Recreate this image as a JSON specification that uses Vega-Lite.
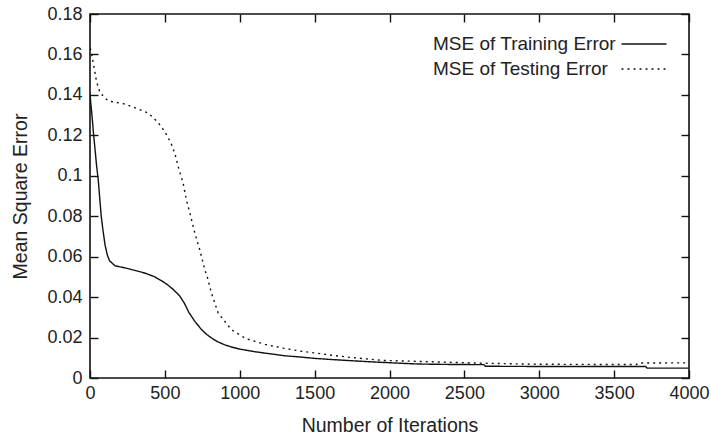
{
  "$schema": "https://vega.github.io/schema/vega-lite/v6.json",
  "width": 599,
  "height": 364,
  "autosize": "none",
  "padding": {"left": 90, "top": 14, "right": 22, "bottom": 58},
  "background": "white",
  "config": {
    "font": "Liberation Sans",
    "view": {"stroke": "#111", "strokeWidth": 1.6},
    "axis": {"grid": false, "domain": false, "tickColor": "#111", "tickWidth": 1.4, "tickSize": -8, "labelColor": "#222", "titleColor": "#222", "labelFont": "Liberation Sans", "titleFont": "Liberation Sans", "labelFontSize": 18, "titleFontSize": 19.5, "titleFontWeight": "normal"}
  },
  "data": {"values": [
    {"iter": 0, "mse": 0.141, "series": "MSE of Training Error"},
    {"iter": 5, "mse": 0.136, "series": "MSE of Training Error"},
    {"iter": 12, "mse": 0.131, "series": "MSE of Training Error"},
    {"iter": 22, "mse": 0.122, "series": "MSE of Training Error"},
    {"iter": 35, "mse": 0.112, "series": "MSE of Training Error"},
    {"iter": 44, "mse": 0.105, "series": "MSE of Training Error"},
    {"iter": 55, "mse": 0.098, "series": "MSE of Training Error"},
    {"iter": 66, "mse": 0.088, "series": "MSE of Training Error"},
    {"iter": 75, "mse": 0.08, "series": "MSE of Training Error"},
    {"iter": 85, "mse": 0.074, "series": "MSE of Training Error"},
    {"iter": 100, "mse": 0.066, "series": "MSE of Training Error"},
    {"iter": 115, "mse": 0.061, "series": "MSE of Training Error"},
    {"iter": 130, "mse": 0.058, "series": "MSE of Training Error"},
    {"iter": 167, "mse": 0.0555, "series": "MSE of Training Error"},
    {"iter": 230, "mse": 0.0545, "series": "MSE of Training Error"},
    {"iter": 300, "mse": 0.0532, "series": "MSE of Training Error"},
    {"iter": 370, "mse": 0.0518, "series": "MSE of Training Error"},
    {"iter": 433, "mse": 0.05, "series": "MSE of Training Error"},
    {"iter": 480, "mse": 0.048, "series": "MSE of Training Error"},
    {"iter": 520, "mse": 0.046, "series": "MSE of Training Error"},
    {"iter": 560, "mse": 0.0435, "series": "MSE of Training Error"},
    {"iter": 600, "mse": 0.0405, "series": "MSE of Training Error"},
    {"iter": 630, "mse": 0.037, "series": "MSE of Training Error"},
    {"iter": 660, "mse": 0.0325, "series": "MSE of Training Error"},
    {"iter": 700, "mse": 0.028, "series": "MSE of Training Error"},
    {"iter": 744, "mse": 0.024, "series": "MSE of Training Error"},
    {"iter": 780, "mse": 0.0215, "series": "MSE of Training Error"},
    {"iter": 811, "mse": 0.0198, "series": "MSE of Training Error"},
    {"iter": 850, "mse": 0.018, "series": "MSE of Training Error"},
    {"iter": 900, "mse": 0.0164, "series": "MSE of Training Error"},
    {"iter": 950, "mse": 0.0152, "series": "MSE of Training Error"},
    {"iter": 1000, "mse": 0.0143, "series": "MSE of Training Error"},
    {"iter": 1100, "mse": 0.013, "series": "MSE of Training Error"},
    {"iter": 1200, "mse": 0.012, "series": "MSE of Training Error"},
    {"iter": 1300, "mse": 0.011, "series": "MSE of Training Error"},
    {"iter": 1400, "mse": 0.0104, "series": "MSE of Training Error"},
    {"iter": 1500, "mse": 0.0097, "series": "MSE of Training Error"},
    {"iter": 1600, "mse": 0.0092, "series": "MSE of Training Error"},
    {"iter": 1733, "mse": 0.0086, "series": "MSE of Training Error"},
    {"iter": 1850, "mse": 0.0081, "series": "MSE of Training Error"},
    {"iter": 1960, "mse": 0.0077, "series": "MSE of Training Error"},
    {"iter": 2100, "mse": 0.0072, "series": "MSE of Training Error"},
    {"iter": 2200, "mse": 0.0069, "series": "MSE of Training Error"},
    {"iter": 2400, "mse": 0.0067, "series": "MSE of Training Error"},
    {"iter": 2630, "mse": 0.0066, "series": "MSE of Training Error"},
    {"iter": 2640, "mse": 0.0058, "series": "MSE of Training Error"},
    {"iter": 3000, "mse": 0.0057, "series": "MSE of Training Error"},
    {"iter": 3400, "mse": 0.0057, "series": "MSE of Training Error"},
    {"iter": 3710, "mse": 0.0057, "series": "MSE of Training Error"},
    {"iter": 3720, "mse": 0.0049, "series": "MSE of Training Error"},
    {"iter": 4000, "mse": 0.0049, "series": "MSE of Training Error"},
    {"iter": 0, "mse": 0.163, "series": "MSE of Testing Error"},
    {"iter": 7, "mse": 0.162, "series": "MSE of Testing Error"},
    {"iter": 22, "mse": 0.1556, "series": "MSE of Testing Error"},
    {"iter": 44, "mse": 0.1465, "series": "MSE of Testing Error"},
    {"iter": 67, "mse": 0.141, "series": "MSE of Testing Error"},
    {"iter": 122, "mse": 0.137, "series": "MSE of Testing Error"},
    {"iter": 233, "mse": 0.1355, "series": "MSE of Testing Error"},
    {"iter": 322, "mse": 0.133, "series": "MSE of Testing Error"},
    {"iter": 389, "mse": 0.131, "series": "MSE of Testing Error"},
    {"iter": 451, "mse": 0.1267, "series": "MSE of Testing Error"},
    {"iter": 500, "mse": 0.1218, "series": "MSE of Testing Error"},
    {"iter": 540, "mse": 0.1163, "series": "MSE of Testing Error"},
    {"iter": 567, "mse": 0.111, "series": "MSE of Testing Error"},
    {"iter": 589, "mse": 0.1045, "series": "MSE of Testing Error"},
    {"iter": 622, "mse": 0.0963, "series": "MSE of Testing Error"},
    {"iter": 644, "mse": 0.088, "series": "MSE of Testing Error"},
    {"iter": 673, "mse": 0.0798, "series": "MSE of Testing Error"},
    {"iter": 700, "mse": 0.0716, "series": "MSE of Testing Error"},
    {"iter": 733, "mse": 0.0634, "series": "MSE of Testing Error"},
    {"iter": 767, "mse": 0.0535, "series": "MSE of Testing Error"},
    {"iter": 785, "mse": 0.0495, "series": "MSE of Testing Error"},
    {"iter": 811, "mse": 0.042, "series": "MSE of Testing Error"},
    {"iter": 856, "mse": 0.0321, "series": "MSE of Testing Error"},
    {"iter": 944, "mse": 0.0239, "series": "MSE of Testing Error"},
    {"iter": 1040, "mse": 0.0195, "series": "MSE of Testing Error"},
    {"iter": 1170, "mse": 0.0166, "series": "MSE of Testing Error"},
    {"iter": 1289, "mse": 0.0148, "series": "MSE of Testing Error"},
    {"iter": 1411, "mse": 0.0132, "series": "MSE of Testing Error"},
    {"iter": 1511, "mse": 0.0123, "series": "MSE of Testing Error"},
    {"iter": 1633, "mse": 0.0111, "series": "MSE of Testing Error"},
    {"iter": 1750, "mse": 0.0101, "series": "MSE of Testing Error"},
    {"iter": 1956, "mse": 0.0087, "series": "MSE of Testing Error"},
    {"iter": 2289, "mse": 0.008, "series": "MSE of Testing Error"},
    {"iter": 2622, "mse": 0.0073, "series": "MSE of Testing Error"},
    {"iter": 3000, "mse": 0.0068, "series": "MSE of Testing Error"},
    {"iter": 3400, "mse": 0.0067, "series": "MSE of Testing Error"},
    {"iter": 3650, "mse": 0.0067, "series": "MSE of Testing Error"},
    {"iter": 3660, "mse": 0.0074, "series": "MSE of Testing Error"},
    {"iter": 4000, "mse": 0.0075, "series": "MSE of Testing Error"}
  ]},
  "layer": [
    {
      "mark": {"type": "line", "color": "#111", "strokeWidth": 1.4, "clip": true},
      "encoding": {
        "x": {"field": "iter", "type": "quantitative", "scale": {"domain": [0, 4000], "nice": false},
              "axis": {"orient": "bottom", "values": [0, 500, 1000, 1500, 2000, 2500, 3000, 3500, 4000], "format": "d", "title": "Number of Iterations", "labelPadding": 14, "titlePadding": 14, "labelFlush": false}},
        "y": {"field": "mse", "type": "quantitative", "scale": {"domain": [0, 0.18], "nice": false},
              "axis": {"orient": "left", "values": [0, 0.02, 0.04, 0.06, 0.08, 0.1, 0.12, 0.14, 0.16, 0.18], "title": "Mean Square Error", "labelPadding": 16, "titlePadding": 16, "labelFlush": false, "labelExpr": "datum.value == 0 ? '0' : format(datum.value, '.2~f')"}},
        "strokeDash": {"field": "series", "type": "nominal",
              "scale": {"domain": ["MSE of Training Error", "MSE of Testing Error"], "range": [[1, 0], [2, 4]]},
              "legend": {"title": null, "orient": "none", "legendX": 542, "legendY": 18, "padding": 0,
                         "symbolType": "M-2,0H2", "symbolSize": 506, "symbolStrokeWidth": 1.4, "symbolStrokeColor": "#111", "symbolFillColor": "transparent",
                         "labelAlign": "left", "labelOffset": -223, "labelFontSize": 19, "labelFont": "Liberation Sans", "labelColor": "#222", "rowPadding": 3, "labelLimit": 400}}
      }
    },
    {
      "mark": {"type": "line", "opacity": 0},
      "encoding": {
        "x": {"field": "iter", "type": "quantitative", "axis": {"orient": "top", "values": [0, 500, 1000, 1500, 2000, 2500, 3000, 3500, 4000], "labels": false, "title": null}},
        "y": {"field": "mse", "type": "quantitative", "axis": {"orient": "right", "values": [0, 0.02, 0.04, 0.06, 0.08, 0.1, 0.12, 0.14, 0.16, 0.18], "labels": false, "title": null}}
      }
    }
  ],
  "resolve": {"axis": {"x": "independent", "y": "independent"}}
}
